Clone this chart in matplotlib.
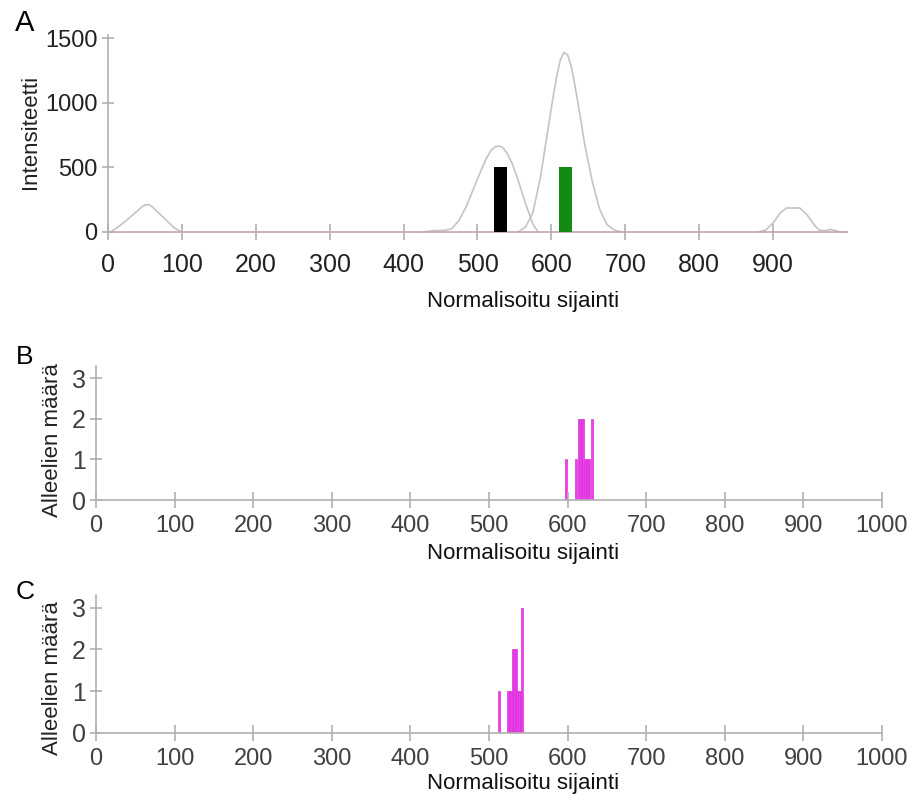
import numpy as np
import matplotlib
matplotlib.use("Agg")
import matplotlib.pyplot as plt

# Panel A: intensity traces
peak1_x = [0, 5, 15, 25, 35, 45, 50, 55, 60, 70, 80, 90, 100]
peak1_y = [0, 5, 45, 90, 140, 190, 210, 212, 195, 140, 85, 30, 0]
peak2_x = [425, 440, 455, 465, 475, 485, 495, 505, 512, 518, 524, 529, 534, 540, 547, 555, 565, 575, 582]
peak2_y = [0, 10, 12, 25, 90, 200, 340, 480, 570, 630, 660, 665, 655, 610, 530, 400, 220, 60, 0]
peak3_x = [555, 565, 575, 585, 595, 601, 607, 612, 617, 622, 627, 632, 638, 645, 655, 665, 675, 685, 695]
peak3_y = [0, 40, 150, 420, 780, 1000, 1200, 1330, 1390, 1370, 1280, 1130, 930, 680, 400, 180, 60, 15, 0]
peak4_x = [880, 890, 900, 910, 918, 936, 945, 955, 962, 970, 978, 985, 990, 1000]
peak4_y = [0, 15, 70, 150, 186, 186, 140, 60, 15, 10, 20, 10, 0, 0]

allele_pos = [531, 619]
allele_int = [500, 500]
allele_col = ["#000000", "#138a13"]

# Panel B / C: allele counts per normalised position
b_pos = [598, 611, 614, 616, 618, 620, 622, 624, 626, 628, 631]
b_cnt = [1, 1, 2, 2, 2, 2, 1, 1, 1, 1, 2]
c_pos = [513, 524, 526, 528, 530, 532, 534, 536, 538, 540, 542]
c_cnt = [1, 1, 1, 1, 2, 2, 2, 1, 1, 1, 3]

W, H = 920, 800
SANS = ["Liberation Sans", "DejaVu Sans"]
SPINE = "#b0b0b0"
MAG = "#ee3cee"

fig = plt.figure(figsize=(9.2, 8), dpi=100, facecolor="white")

def px_axes(left, right, top, bottom):
    return fig.add_axes([left / W, 1 - bottom / H, (right - left) / W, (bottom - top) / H])

def style(ax, xsize, ysize, labcol, xpad):
    for s in ["top", "right"]:
        ax.spines[s].set_visible(False)
    for s in ["left", "bottom"]:
        ax.spines[s].set_color(SPINE)
        ax.spines[s].set_linewidth(1.2)
    ax.tick_params(axis="x", direction="inout", length=12, width=1.2, color=SPINE,
                   pad=xpad, labelsize=xsize, labelcolor=labcol)
    ax.tick_params(axis="y", direction="inout", length=9, width=1.2, color=SPINE,
                   pad=3, labelsize=ysize, labelcolor=labcol)
    for lab in ax.get_xticklabels() + ax.get_yticklabels():
        lab.set_family(SANS)

# ---- A
axA = px_axes(108, 847, 35, 232)
for xs, ys in [(peak1_x, peak1_y), (peak2_x, peak2_y), (peak3_x, peak3_y), (peak4_x, peak4_y)]:
    axA.plot(xs, ys, color="#c4c4c4", lw=1.2, clip_on=False)
axA.bar(allele_pos, allele_int, width=18, color=allele_col, zorder=3)
axA.set_xlim(0, 1000)
axA.set_ylim(0, 1525)
axA.set_xticks(range(0, 1000, 100))
axA.set_yticks([0, 500, 1000, 1500])
style(axA, 18, 17, "#222222", 9)
axA.spines["bottom"].set_color("#c9a3ab")

# ---- B and C
axB = px_axes(96, 882, 366, 500)
axC = px_axes(96, 882, 595, 733)
for ax, pos, cnt in [(axB, b_pos, b_cnt), (axC, c_pos, c_cnt)]:
    ax.bar(pos, cnt, width=2.2, color=MAG, edgecolor="#d834d8", linewidth=0.5)
    ax.set_xlim(0, 1000)
    ax.set_ylim(0, 3.3)
    ax.set_xticks(range(0, 1001, 100))
    ax.set_yticks([0, 1, 2, 3])
    style(ax, 17, 18, "#404040", 5)

# ---- texts
def ftext(x, y, s, **kw):
    fig.text(x / W, 1 - y / H, s, **kw)

ftext(15, 23, "A", fontsize=21, family=SANS, va="center", ha="left")
ftext(16, 357, "B", fontsize=19, family=SANS, va="center", ha="left")
ftext(16, 592, "C", fontsize=19, family=SANS, va="center", ha="left")

ftext(31, 132, "Intensiteetti", fontsize=16, family=SANS, rotation=90, va="center", ha="center", color="#222222")
ftext(53, 440, "Alleelien määrä", fontsize=16, family=SANS, rotation=90, va="center", ha="center", color="#222222")
ftext(53, 678, "Alleelien määrä", fontsize=16, family=SANS, rotation=90, va="center", ha="center", color="#222222")

for y in [302, 553, 783]:
    ftext(523, y, "Normalisoitu sijainti", fontsize=16, family=SANS, va="center", ha="center", color="#111111")

fig.savefig("out.png", dpi=100, facecolor="white")
